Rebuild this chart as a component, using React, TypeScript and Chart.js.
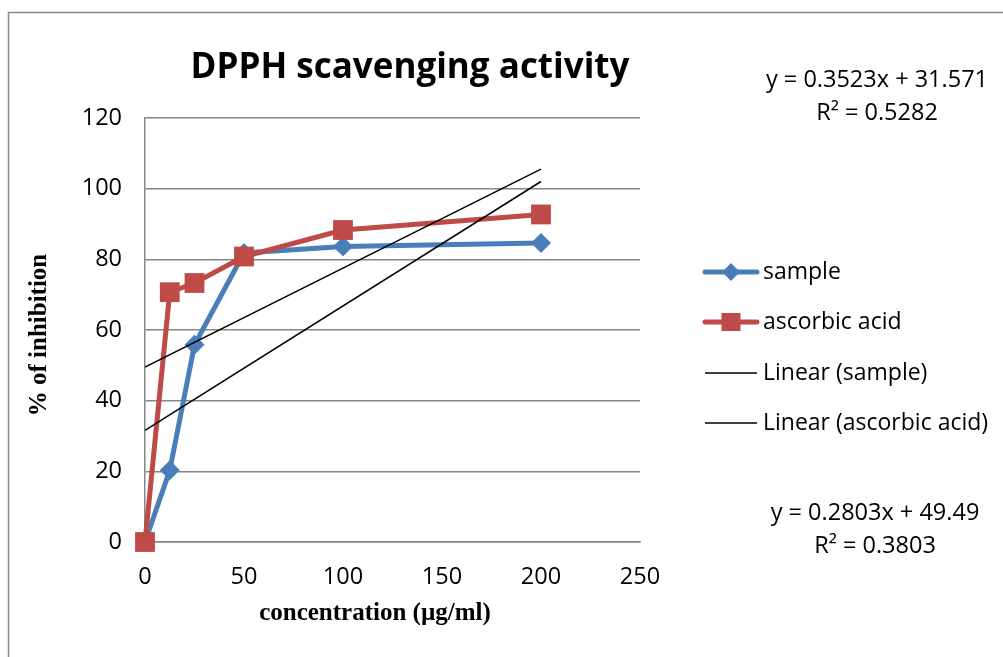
import React, { useEffect, useRef } from "react";
import { Chart, registerables } from "chart.js";

Chart.register(...registerables);

const chartTitle = "DPPH scavenging activity";
const xAxisTitle = "concentration (µg/ml)";
const yAxisTitle = "% of inhibition";

const concentrations = [0, 12.5, 25, 50, 100, 200];
const sampleValues = [0, 20.3, 55.8, 81.8, 83.6, 84.6];
const ascorbicValues = [0, 70.7, 73.3, 80.8, 88.3, 92.7];

const trendX = [0, 200];
const linearSampleY = [31.57, 102.03];
const linearAscorbicY = [49.49, 105.55];

const equationTop = ["y = 0.3523x + 31.571", "R² = 0.5282"];
const equationBottom = ["y = 0.2803x + 49.49", "R² = 0.3803"];

const seriesNames = ["sample", "ascorbic acid", "Linear (sample)", "Linear (ascorbic acid)"];

const BLUE = "#4A7EBB";
const RED = "#BE4B48";
const GRID = "#868686";
const SANS = "'Open Sans', 'Noto Sans', sans-serif";
const SERIF = "'Liberation Serif', 'DejaVu Serif', serif";

const decorPlugin = {
  id: "decor",
  afterDraw(chart: any) {
    const ctx = chart.ctx as CanvasRenderingContext2D;
    ctx.save();
    // outer border
    ctx.strokeStyle = "#8a8a8a";
    ctx.lineWidth = 1.5;
    ctx.strokeRect(8.5, 12.5, 1200, 1200);

    ctx.fillStyle = "#000";
    // title
    ctx.font = `bold 35px ${SANS}`;
    ctx.textAlign = "center";
    ctx.textBaseline = "alphabetic";
    ctx.fillText(chartTitle, 410, 78);

    // axis titles
    ctx.font = `bold 25px ${SERIF}`;
    ctx.fillText(xAxisTitle, 375, 620);
    ctx.save();
    ctx.translate(46, 335);
    ctx.rotate(-Math.PI / 2);
    ctx.fillText(yAxisTitle, 0, 0);
    ctx.restore();

    // equations
    ctx.font = `23.5px ${SANS}`;
    ctx.fillText(equationTop[0], 877, 87);
    ctx.fillText(equationTop[1], 877, 120);
    ctx.fillText(equationBottom[0], 875, 520);
    ctx.fillText(equationBottom[1], 875, 553);

    // legend
    const rows = [272, 322, 373, 423];
    const ds = chart.data.datasets;
    ctx.textAlign = "left";
    ctx.textBaseline = "middle";
    ctx.font = `23px ${SANS}`;
    rows.forEach((ry, i) => {
      const d = ds[i];
      ctx.strokeStyle = d.borderColor;
      ctx.lineWidth = d.borderWidth;
      ctx.lineCap = i < 2 ? "round" : "butt";
      ctx.beginPath();
      ctx.moveTo(705, ry);
      ctx.lineTo(757, ry);
      ctx.stroke();
      if (i === 0) {
        ctx.fillStyle = BLUE;
        ctx.beginPath();
        ctx.moveTo(731, ry - 9);
        ctx.lineTo(740, ry);
        ctx.lineTo(731, ry + 9);
        ctx.lineTo(722, ry);
        ctx.closePath();
        ctx.fill();
      } else if (i === 1) {
        ctx.fillStyle = RED;
        ctx.fillRect(721.5, ry - 9, 19, 18);
      }
      ctx.fillStyle = "#000";
      ctx.fillText(d.label, 763, ry);
    });
    ctx.restore();
  },
};

export default function App() {
  const ref = useRef<HTMLCanvasElement | null>(null);
  useEffect(() => {
    if (!ref.current) return;
    const toPts = (xs: number[], ys: number[]) => xs.map((x, i) => ({ x, y: ys[i] }));
    const chart = new Chart(ref.current, {
      type: "line",
      data: {
        datasets: [
          {
            label: seriesNames[0],
            data: toPts(concentrations, sampleValues),
            borderColor: BLUE,
            backgroundColor: BLUE,
            borderWidth: 5,
            pointStyle: "rectRot",
            pointRadius: 10,
            pointBorderWidth: 0,
            tension: 0,
            clip: false,
            order: 2,
          },
          {
            label: seriesNames[1],
            data: toPts(concentrations, ascorbicValues),
            borderColor: RED,
            backgroundColor: RED,
            borderWidth: 5,
            pointStyle: "rect",
            pointRadius: 14,
            pointBorderWidth: 0,
            tension: 0,
            clip: false,
            order: 1,
          },
          {
            label: seriesNames[2],
            data: toPts(trendX, linearSampleY),
            borderColor: "#000",
            backgroundColor: "#000",
            borderWidth: 1.5,
            pointRadius: 0,
            tension: 0,
            order: 0,
          },
          {
            label: seriesNames[3],
            data: toPts(trendX, linearAscorbicY),
            borderColor: "#000",
            backgroundColor: "#000",
            borderWidth: 1.5,
            pointRadius: 0,
            tension: 0,
            order: 0,
          },
        ],
      },
      options: {
        animation: false,
        responsive: false,
        maintainAspectRatio: false,
        layout: { padding: { top: 118, right: 363, left: 0, bottom: 0 } },
        plugins: { legend: { display: false }, title: { display: false }, tooltip: { enabled: false } },
        scales: {
          x: {
            type: "linear",
            min: 0,
            max: 250,
            ticks: { stepSize: 50, color: "#000", font: { family: SANS, size: 23.5 }, padding: 21, maxRotation: 0 },
            grid: { display: false, drawTicks: false },
            border: { display: true, color: GRID, width: 1.5 },
            afterFit: (s: any) => { s.height = 115; },
          },
          y: {
            type: "linear",
            min: 0,
            max: 120,
            ticks: { stepSize: 20, color: "#000", font: { family: SANS, size: 23.5 }, padding: 23 },
            grid: { color: GRID, lineWidth: 1.5, drawTicks: false },
            border: { display: true, color: GRID, width: 1.5 },
            afterFit: (s: any) => { s.width = 145; },
          },
        },
      },
      plugins: [decorPlugin],
    } as any);
    return () => chart.destroy();
  }, []);
  return (
    <div style={{ position: "fixed", left: 0, top: 0, width: 1003, height: 657, background: "#fff" }}>
      <canvas ref={ref} width={1003} height={657} style={{ width: 1003, height: 657 }} />
    </div>
  );
}
